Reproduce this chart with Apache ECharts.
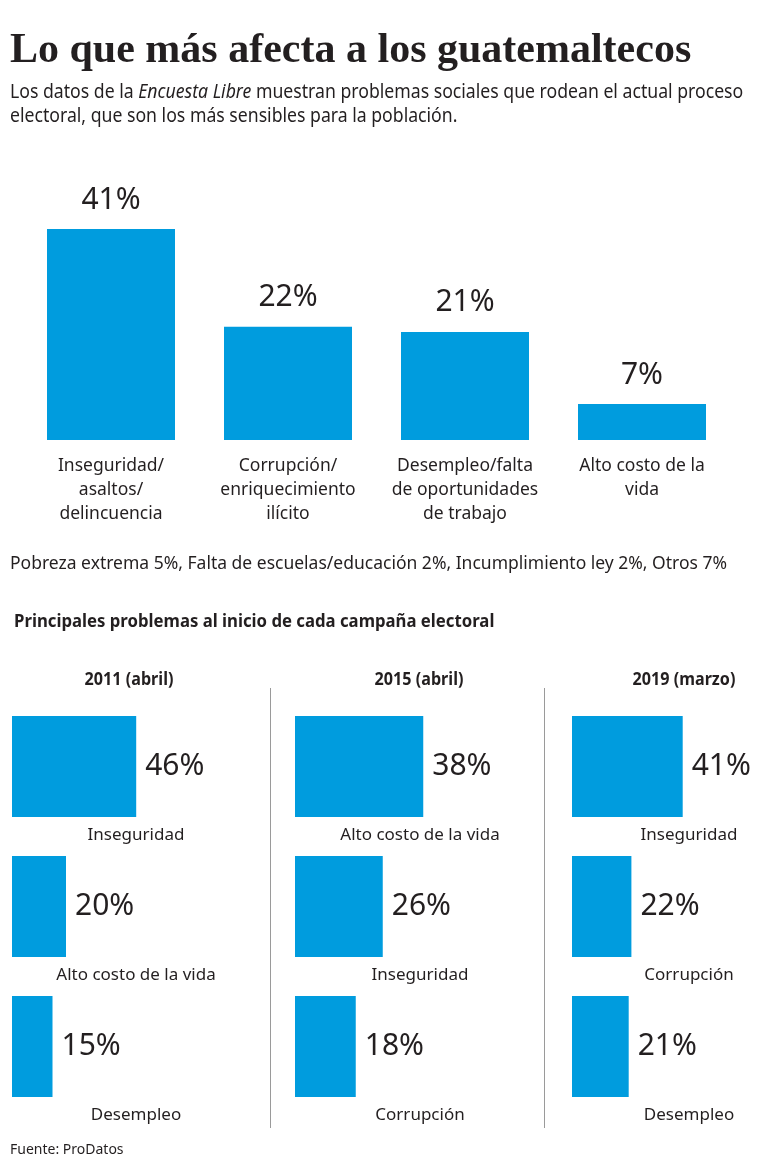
<!DOCTYPE html>
<html>
<head>
<meta charset="utf-8">
<script src="https://cdn.jsdelivr.net/npm/echarts@6/dist/echarts.min.js"></script>
<style>
html,body{margin:0;padding:0;background:#fff;}
#main{width:760px;height:1170px;}
</style>
</head>
<body>
<div id="main"></div>
<script>
// ---- data ----
const mainCategories = ['Inseguridad/\nasaltos/\ndelincuencia', 'Corrupción/\nenriquecimiento\nilícito', 'Desempleo/falta\nde oportunidades\nde trabajo', 'Alto costo de la\nvida'];
const mainValues = [41, 22, 21, 7];

const panelTitles = ['2011 (abril)', '2015 (abril)', '2019 (marzo)'];
const categories2011 = ['Inseguridad', 'Alto costo de la vida', 'Desempleo'];
const values2011 = [46, 20, 15];
const categories2015 = ['Alto costo de la vida', 'Inseguridad', 'Corrupción'];
const values2015 = [38, 26, 18];
const categories2019 = ['Inseguridad', 'Corrupción', 'Desempleo'];
const values2019 = [41, 22, 21];

const titleText = 'Lo que más afecta a los guatemaltecos';
const subtitleLine1 = ['Los datos de la ', 'Encuesta Libre', ' muestran problemas sociales que rodean el actual proceso'];
const subtitleLine2 = 'electoral, que son los más sensibles para la población.';
const otherText = 'Pobreza extrema 5%, Falta de escuelas/educación 2%, Incumplimiento ley 2%, Otros 7%';
const sectionTitle = 'Principales problemas al inicio de cada campaña electoral';
const sourceText = 'Fuente: ProDatos';

// ---- styles ----
const INK = '#231f20';
const BLUE = '#009CDE';
const SANS = '"Noto Sans", "Open Sans", sans-serif';

const chart = echarts.init(document.getElementById('main'));

const panels = [
  {cats: categories2011, vals: values2011, left: 12, max: 50, labelCenter: 124, head: 129},
  {cats: categories2015, vals: values2015, left: 295, max: 40, labelCenter: 125, head: 419},
  {cats: categories2019, vals: values2019, left: 572, max: 50, labelCenter: 117, head: 684}
];

const grids = [{left: 22.5, width: 708, top: 208.4, height: 231.6}];
const xAxes = [{
  type: 'category', gridIndex: 0, data: mainCategories,
  axisLine: {show: false}, axisTick: {show: false},
  axisLabel: {interval: 0, margin: 14, fontSize: 17.5, lineHeight: 24, color: INK, fontFamily: SANS}
}];
const yAxes = [{type: 'value', gridIndex: 0, min: 0, max: 45, show: false}];
const series = [{
  type: 'bar', xAxisIndex: 0, yAxisIndex: 0, data: mainValues, barWidth: 128,
  itemStyle: {color: BLUE},
  label: {show: true, position: 'top', distance: 14, formatter: '{c}%', fontSize: 30, color: INK, fontFamily: SANS}
}];

panels.forEach((p, i) => {
  const gi = i + 1;
  grids.push({left: p.left, width: 135, top: 696.5, height: 420});
  xAxes.push({type: 'value', gridIndex: gi, min: 0, max: p.max, show: false});
  yAxes.push({
    type: 'category', gridIndex: gi, data: p.cats, inverse: true,
    axisLine: {show: false}, axisTick: {show: false},
    axisLabel: {
      inside: true, interval: 0, margin: p.labelCenter, align: 'center', verticalAlign: 'middle',
      formatter: (name) => '{gap| }\n{t|' + name + '}',
      rich: {
        gap: {lineHeight: 137, fontSize: 10},
        t: {fontSize: 17, lineHeight: 20, color: INK, fontFamily: SANS}
      }
    }
  });
  series.push({
    type: 'bar', xAxisIndex: gi, yAxisIndex: gi, data: p.vals, barWidth: 101,
    itemStyle: {color: BLUE},
    label: {show: true, position: 'right', distance: 9, formatter: '{c}%', fontSize: 30, color: INK, fontFamily: SANS}
  });
});

const graphics = [
  {type: 'text', x: 10, y: 51, style: {text: titleText, font: 'bold 42px "Liberation Serif", serif', fill: INK, verticalAlign: 'middle'}},
  {type: 'text', x: 10, y: 92, scaleX: 0.905, style: {
    text: '{n|' + subtitleLine1[0] + '}{i|' + subtitleLine1[1] + '}{n|' + subtitleLine1[2] + '}',
    rich: {
      n: {fontSize: 19.5, fontFamily: SANS, fill: INK, color: INK},
      i: {fontSize: 19.5, fontFamily: SANS, fontStyle: 'italic', fill: INK, color: INK}
    },
    fontSize: 19.5, fontFamily: SANS, fill: INK, verticalAlign: 'middle'}},
  {type: 'text', x: 10, y: 116, scaleX: 0.905, style: {text: subtitleLine2, fontSize: 19.5, fontFamily: SANS, fill: INK, verticalAlign: 'middle'}},
  {type: 'text', x: 10, y: 563.5, scaleX: 0.946, style: {text: otherText, fontSize: 18.5, fontFamily: SANS, fill: INK, verticalAlign: 'middle'}},
  {type: 'text', x: 14, y: 622.5, scaleX: 0.985, style: {text: sectionTitle, fontSize: 17, fontWeight: 'bold', fontFamily: SANS, fill: INK, verticalAlign: 'middle'}},
  {type: 'text', x: 10, y: 1150, style: {text: sourceText, fontSize: 14, fontFamily: SANS, fill: INK, verticalAlign: 'middle'}},
  {type: 'line', shape: {x1: 270.5, y1: 688, x2: 270.5, y2: 1128}, style: {stroke: '#9a9a9a', lineWidth: 1}},
  {type: 'line', shape: {x1: 544.5, y1: 688, x2: 544.5, y2: 1128}, style: {stroke: '#9a9a9a', lineWidth: 1}}
];
panels.forEach((p, i) => {
  graphics.push({type: 'text', x: p.head, y: 680, scaleX: 0.95, style: {text: panelTitles[i], fontSize: 17, fontWeight: 'bold', fontFamily: SANS, fill: INK, align: 'center', verticalAlign: 'middle'}});
});

chart.setOption({
  animation: false,
  backgroundColor: '#fff',
  grid: grids,
  xAxis: xAxes,
  yAxis: yAxes,
  series: series,
  graphic: graphics
});
</script>
</body>
</html>
